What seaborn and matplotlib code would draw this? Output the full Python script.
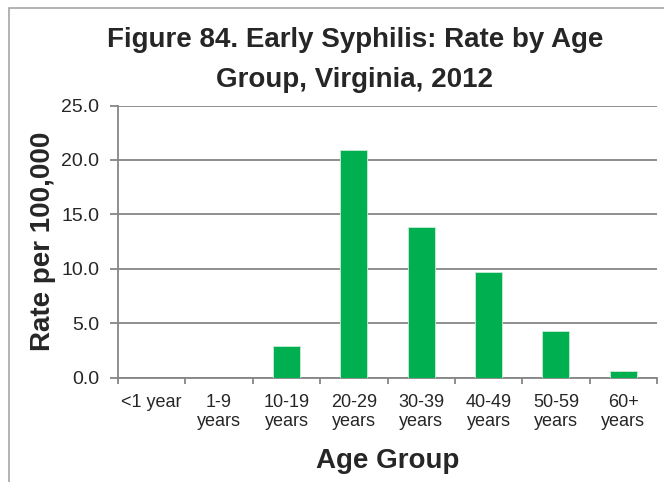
import matplotlib
matplotlib.use("Agg")
import matplotlib.pyplot as plt
import seaborn as sns
import pandas as pd
from matplotlib.patches import Rectangle

categories = ["<1 year", "1-9\nyears", "10-19\nyears", "20-29\nyears", "30-39\nyears",
              "40-49\nyears", "50-59\nyears", "60+\nyears"]
rates = [0.0, 0.0, 2.9, 20.9, 13.8, 9.7, 4.3, 0.6]
y_ticks = [0, 5, 10, 15, 20, 25]
title_lines = ["Figure 84. Early Syphilis: Rate by Age", "Group, Virginia, 2012"]

sns.set_style("white")
plt.rcParams["font.family"] = ["Liberation Sans", "DejaVu Sans"]

df = pd.DataFrame({"group": categories, "rate": rates})

W, H = 664, 482
fig = plt.figure(figsize=(W / 100, H / 100), dpi=100)
ax = fig.add_axes([118 / W, 1 - 377.5 / H, 539 / W, 272 / H])

sns.barplot(data=df, x="group", y="rate", color="#00B050", saturation=1,
            width=0.4, ax=ax, zorder=3, edgecolor="#c8ecd6", linewidth=0.6)

ax.set_ylim(0, 25)
ax.set_xlim(-0.5, len(categories) - 0.5)
ax.set_yticks(y_ticks)
ax.set_yticklabels([f"{v:.1f}" for v in y_ticks], fontsize=14)
ax.yaxis.grid(True, color="#868686", linewidth=1.3, zorder=0)
ax.set_axisbelow(True)

# category ticks sit between bars, labels under the bars
ax.set_xticks([i - 0.5 for i in range(len(categories) + 1)])
ax.set_xticklabels([])
ax.set_xticks(range(len(categories)), minor=True)
ax.set_xticklabels(categories, minor=True, fontsize=13, linespacing=1.15)
ax.tick_params(axis="x", which="minor", length=0, pad=12)
ax.tick_params(axis="x", which="major", length=4.5, color="#868686", width=1.3, direction="out")
ax.tick_params(axis="y", length=5.5, color="#868686", width=1.3, direction="out", pad=8)
ax.tick_params(bottom=True, left=True)

for side in ["top", "right"]:
    ax.spines[side].set_visible(False)
for side in ["left", "bottom"]:
    ax.spines[side].set_color("#868686")
    ax.spines[side].set_linewidth(1.3)

ax.set_xlabel("Age Group", fontsize=20, fontweight="bold", labelpad=13)
ax.set_ylabel("Rate per 100,000", fontsize=20, fontweight="bold", labelpad=4)

for i, line in enumerate(title_lines):
    fig.text(355 / W, 1 - (47 + 40 * i) / H, line, fontsize=20, fontweight="bold",
             ha="center", va="baseline")

# chart-area border (only left and top edges fall inside the image)
fig.patches.append(Rectangle((9 / W, -0.1), 1.0, 1.1 - 8 / H, transform=fig.transFigure,
                             fill=False, edgecolor="#A6A6A6", linewidth=1.2))

fig.savefig("out.png", dpi=100)
